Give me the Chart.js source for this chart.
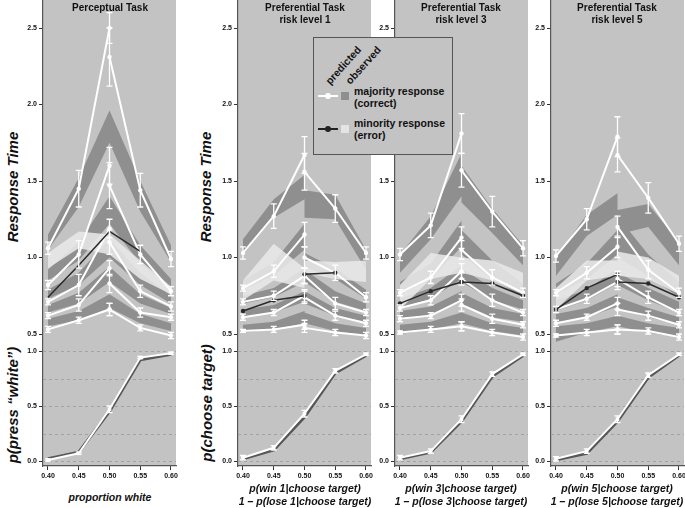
<!DOCTYPE html>
<html lang="en">
<head>
<meta charset="UTF-8">
<title>Response time and choice probability</title>
<script src="https://cdn.jsdelivr.net/npm/chart.js@4.4.0/dist/chart.umd.min.js"></script>
<style>
  body { margin: 0; width: 685px; height: 508px; overflow: hidden; position: relative; background: #fff;
         font-family: "Liberation Sans", Arial, Helvetica, sans-serif; color: #111; }
  canvas { position: absolute; z-index: 1; }
  .t { position: absolute; z-index: 4; font-weight: bold; white-space: nowrap; text-align: center; transform: translateX(-50%); }
  .ptitle { font-size: 10px; line-height: 12px; top: 2px; }
  .xtitle { font-size: 10.5px; line-height: 13px; font-style: italic; }
  .ytitle { position: absolute; z-index: 4; font-weight: bold; font-style: italic; font-size: 15px; white-space: nowrap;
            transform: translate(-50%, -50%) rotate(-90deg); }
  #legend { position: absolute; left: 313px; top: 37px; width: 138px; height: 116px; background: #c3c3c3;
            border: 1px solid #555; z-index: 5; font-size: 10.5px; font-weight: bold; }
  #legend .rot { position: absolute; white-space: nowrap; transform: translate(-50%, -50%) rotate(-48deg); }
  #legend .txt { position: absolute; left: 40px; line-height: 12px; white-space: nowrap; }
  #legend .ln { position: absolute; left: 4px; width: 20px; height: 2px; }
  #legend .dot { position: absolute; left: 11px; width: 6px; height: 6px; border-radius: 50%; }
  #legend .sq { position: absolute; left: 27px; width: 8px; height: 8px; }
</style>
</head>
<body>

<div class="t ptitle" style="left:110px">Perceptual Task</div>
<div class="t ptitle" style="left:305px">Preferential Task<br>risk level 1</div>
<div class="t ptitle" style="left:461px">Preferential Task<br>risk level 3</div>
<div class="t ptitle" style="left:617px">Preferential Task<br>risk level 5</div>

<div class="ytitle" style="left:12px; top:187px">Response Time</div>
<div class="ytitle" style="left:205px; top:187px">Response Time</div>
<div class="ytitle" style="left:12px; top:405px">p(press “white”)</div>
<div class="ytitle" style="left:206px; top:403px">p(choose target)</div>

<div class="t xtitle" style="left:110px; top:491px">proportion white</div>
<div class="t xtitle" style="left:305px; top:482px">p(win 1|choose target)<br>1 – p(lose 1|choose target)</div>
<div class="t xtitle" style="left:461px; top:482px">p(win 3|choose target)<br>1 – p(lose 3|choose target)</div>
<div class="t xtitle" style="left:617px; top:482px">p(win 5|choose target)<br>1 – p(lose 5|choose target)</div>

<div id="legend">
  <div class="rot" style="left:29px; top:27px">predicted</div>
  <div class="rot" style="left:49px; top:27px">observed</div>
  <div class="ln" style="top:57px; background:#fff"></div>
  <div class="dot" style="top:55px; background:#fff"></div>
  <div class="sq" style="top:54px; background:#8f8f8f"></div>
  <div class="txt" style="top:47px">majority response<br>(correct)</div>
  <div class="ln" style="top:90px; background:#222"></div>
  <div class="dot" style="top:88px; background:#222"></div>
  <div class="sq" style="top:87px; background:#e4e4e4"></div>
  <div class="txt" style="top:79px">minority response<br>(error)</div>
</div>

<script>
// x positions of the RT panels: 0.50 appears twice (left branch / right branch)
const xRT = [0.40, 0.45, 0.50, 0.50, 0.55, 0.60];
const xProb = [0.40, 0.45, 0.50, 0.55, 0.60];
const xTicks = [0.40, 0.45, 0.50, 0.55, 0.60];
const rtTicks = [0.5, 1.0, 1.5, 2.0, 2.5];
const pTicks = [0.0, 0.5, 1.0];
const pGrid = [0.0, 0.25, 0.5, 0.75, 1.0];

// ---- Perceptual task ----
const perceptualRT = [
  [1.06, 1.45, 2.50, 2.31, 1.44, 0.99],
  [0.82, 1.02, 1.60, 1.47, 1.02, 0.78],
  [0.71, 0.82, 1.19, 1.10, 0.78, 0.68],
  [0.62, 0.69, 0.93, 0.83, 0.64, 0.61],
  [0.53, 0.59, 0.66, 0.66, 0.54, 0.49]
];
const perceptualRTErr = [
  [0.04, 0.12, 0.10, 0.19, 0.11, 0.05],
  [0.03, 0.09, 0.12, 0.15, 0.06, 0.03],
  [0.02, 0.07, 0.06, 0.08, 0.04, 0.03],
  [0.02, 0.04, 0.05, 0.06, 0.03, 0.02],
  [0.02, 0.02, 0.04, 0.04, 0.02, 0.02]
];
const perceptualErrorRT = [0.74, 0.95, 1.17, 1.17, 1.04, null];
const perceptualBandLo = [
  [1.05, 1.33, 1.75, 1.75, 1.30, 0.97],
  [0.85, 0.98, 1.22, 1.22, 0.96, 0.80],
  [0.73, 0.82, 1.00, 1.00, 0.82, 0.70],
  [0.64, 0.70, 0.84, 0.84, 0.70, 0.63],
  [0.55, 0.59, 0.67, 0.67, 0.57, 0.52]
];
const perceptualBandHi = [
  [1.15, 1.52, 1.96, 1.96, 1.50, 1.08],
  [0.92, 1.10, 1.40, 1.40, 1.08, 0.86],
  [0.79, 0.90, 1.12, 1.12, 0.90, 0.75],
  [0.69, 0.77, 0.94, 0.94, 0.76, 0.67],
  [0.60, 0.65, 0.76, 0.76, 0.63, 0.57]
];
const perceptualLightLo = [0.93, 1.06, 1.02, 1.02, 0.86, 0.76];
const perceptualLightHi = [1.03, 1.17, 1.15, 1.15, 0.98, 0.81];
const perceptualChoice = [0.01, 0.07, 0.47, 0.94, 0.98];
const perceptualChoiceErr = [0.01, 0.01, 0.03, 0.01, 0.01];
const perceptualChoicePred = [0.02, 0.08, 0.45, 0.92, 0.97];

// ---- Preferential task, risk level 1 ----
const risk1RT = [
  [1.03, 1.27, 1.67, 1.56, 1.32, 1.03],
  [0.80, 0.91, 1.15, 1.00, 0.90, 0.74],
  [0.71, 0.75, 0.88, 0.88, 0.70, 0.64],
  [0.61, 0.64, 0.75, 0.74, 0.62, 0.57],
  [0.52, 0.53, 0.56, 0.54, 0.51, 0.49]
];
const risk1RTErr = [
  [0.04, 0.08, 0.12, 0.12, 0.09, 0.04],
  [0.02, 0.04, 0.08, 0.07, 0.05, 0.03],
  [0.02, 0.03, 0.05, 0.05, 0.04, 0.02],
  [0.02, 0.02, 0.04, 0.04, 0.03, 0.02],
  [0.01, 0.02, 0.03, 0.03, 0.02, 0.02]
];
const risk1ErrorRT = [0.65, 0.72, 0.75, 0.89, 0.90, null];
const risk1BandLo = [
  [1.02, 1.26, 1.38, 1.26, 1.25, 0.92],
  [0.79, 0.88, 1.05, 0.94, 0.86, 0.73],
  [0.70, 0.74, 0.84, 0.84, 0.71, 0.65],
  [0.61, 0.64, 0.71, 0.70, 0.62, 0.58],
  [0.51, 0.53, 0.57, 0.57, 0.52, 0.49]
];
const risk1BandHi = [
  [1.12, 1.38, 1.54, 1.44, 1.41, 1.05],
  [0.85, 0.97, 1.22, 1.03, 0.93, 0.79],
  [0.75, 0.80, 0.93, 0.92, 0.78, 0.70],
  [0.66, 0.69, 0.78, 0.78, 0.67, 0.62],
  [0.56, 0.58, 0.65, 0.64, 0.57, 0.54]
];
const risk1LightLo = [0.72, 0.85, 0.80, 0.90, 0.86, 0.84];
const risk1LightHi = [0.85, 1.09, 0.93, 0.98, 0.97, 0.98];
const risk1Choice = [0.03, 0.12, 0.43, 0.82, 0.97];
const risk1ChoiceErr = [0.02, 0.02, 0.03, 0.02, 0.01];
const risk1ChoicePred = [0.02, 0.10, 0.40, 0.80, 0.96];

// ---- Preferential task, risk level 3 ----
const risk3RT = [
  [1.02, 1.21, 1.81, 1.57, 1.30, 1.06],
  [0.77, 0.87, 1.13, 1.05, 0.87, 0.77],
  [0.67, 0.72, 0.91, 0.86, 0.72, 0.64],
  [0.60, 0.62, 0.72, 0.69, 0.60, 0.56],
  [0.51, 0.53, 0.55, 0.55, 0.51, 0.48]
];
const risk3RTErr = [
  [0.04, 0.08, 0.13, 0.11, 0.10, 0.05],
  [0.02, 0.04, 0.07, 0.06, 0.05, 0.03],
  [0.02, 0.03, 0.05, 0.04, 0.04, 0.02],
  [0.02, 0.02, 0.04, 0.04, 0.03, 0.02],
  [0.01, 0.02, 0.03, 0.03, 0.02, 0.02]
];
const risk3ErrorRT = [0.70, 0.78, 0.84, 0.84, 0.83, 0.75];
const risk3BandLo = [
  [0.90, 1.12, 1.40, 1.36, 1.16, 0.95],
  [0.76, 0.86, 1.07, 1.02, 0.86, 0.74],
  [0.67, 0.73, 0.86, 0.84, 0.72, 0.66],
  [0.59, 0.63, 0.71, 0.70, 0.61, 0.58],
  [0.50, 0.53, 0.57, 0.57, 0.52, 0.49]
];
const risk3BandHi = [
  [1.02, 1.27, 1.68, 1.60, 1.32, 1.08],
  [0.84, 0.96, 1.24, 1.18, 0.98, 0.83],
  [0.73, 0.80, 0.95, 0.93, 0.80, 0.72],
  [0.65, 0.68, 0.78, 0.77, 0.67, 0.63],
  [0.56, 0.58, 0.64, 0.64, 0.57, 0.54]
];
const risk3LightLo = [0.66, 0.86, 0.90, 0.90, 0.85, 0.76];
const risk3LightHi = [0.82, 1.03, 1.00, 1.00, 0.98, 0.90];
const risk3Choice = [0.03, 0.09, 0.38, 0.79, 0.97];
const risk3ChoiceErr = [0.02, 0.02, 0.03, 0.02, 0.01];
const risk3ChoicePred = [0.02, 0.08, 0.36, 0.77, 0.96];

// ---- Preferential task, risk level 5 ----
const risk5RT = [
  [1.01, 1.25, 1.79, 1.67, 1.39, 1.09],
  [0.77, 0.90, 1.07, 1.20, 0.92, 0.77],
  [0.66, 0.73, 0.84, 0.86, 0.74, 0.64],
  [0.57, 0.61, 0.70, 0.66, 0.62, 0.56],
  [0.49, 0.51, 0.53, 0.53, 0.52, 0.48]
];
const risk5RTErr = [
  [0.04, 0.07, 0.13, 0.11, 0.10, 0.05],
  [0.02, 0.04, 0.07, 0.07, 0.06, 0.03],
  [0.02, 0.03, 0.05, 0.05, 0.04, 0.02],
  [0.02, 0.02, 0.04, 0.04, 0.03, 0.02],
  [0.01, 0.02, 0.03, 0.03, 0.02, 0.02]
];
const risk5ErrorRT = [0.66, 0.80, 0.89, 0.84, 0.83, 0.74];
const risk5BandLo = [
  [0.88, 1.14, 1.28, 1.15, 1.20, 0.95],
  [0.76, 0.86, 1.02, 1.00, 0.88, 0.74],
  [0.65, 0.72, 0.83, 0.82, 0.72, 0.64],
  [0.57, 0.61, 0.68, 0.67, 0.61, 0.56],
  [0.45, 0.51, 0.55, 0.55, 0.51, 0.48]
];
const risk5BandHi = [
  [1.00, 1.28, 1.42, 1.31, 1.35, 1.10],
  [0.83, 0.96, 1.18, 1.27, 1.02, 0.84],
  [0.72, 0.79, 0.93, 0.90, 0.80, 0.71],
  [0.63, 0.67, 0.76, 0.74, 0.67, 0.61],
  [0.55, 0.57, 0.62, 0.62, 0.57, 0.54]
];
const risk5LightLo = [0.66, 0.85, 0.88, 0.88, 0.86, 0.76];
const risk5LightHi = [0.80, 0.98, 0.98, 1.04, 1.00, 0.88];
const risk5Choice = [0.02, 0.09, 0.38, 0.78, 0.97];
const risk5ChoiceErr = [0.02, 0.02, 0.03, 0.02, 0.01];
const risk5ChoicePred = [0.01, 0.07, 0.36, 0.76, 0.96];

// ---- look ----
const BG = '#c3c3c3', DARK = '#8f8f8f', LIGHT = 'rgba(232,232,232,0.88)';
const AXIS_W = 18, PLOT_W = 133, PAD_R = 12;
const X_MIN = 0.40 - 5 / 615, X_MAX = 0.60 + 5 / 615;

Chart.defaults.font.family = '"Liberation Sans", Arial, Helvetica, sans-serif';
Chart.defaults.animation = false;

const panelBg = {
  id: 'panelBg',
  beforeDraw(chart) {
    const { ctx, chartArea: a } = chart;
    ctx.save();
    ctx.fillStyle = BG;
    ctx.fillRect(a.left, a.top, a.right - a.left, a.bottom - a.top);
    ctx.restore();
  }
};

// dashed horizontal guides in the choice panels
const dashGrid = {
  id: 'dashGrid',
  beforeDatasetsDraw(chart) {
    if (!chart.options.dashed) return;
    const { ctx, chartArea: a, scales: { y } } = chart;
    ctx.save();
    ctx.strokeStyle = '#a2a2a2';
    ctx.lineWidth = 1;
    ctx.setLineDash([3, 3]);
    pGrid.forEach(v => {
      const py = Math.round(y.getPixelForValue(v)) + 0.5;
      ctx.beginPath(); ctx.moveTo(a.left, py); ctx.lineTo(a.right, py); ctx.stroke();
    });
    ctx.restore();
  }
};

const errorBars = {
  id: 'errorBars',
  afterDatasetsDraw(chart) {
    const { ctx, scales: { x, y } } = chart;
    ctx.save();
    ctx.strokeStyle = '#fff';
    ctx.lineWidth = 1.3;
    chart.data.datasets.forEach(ds => {
      if (!ds.errors) return;
      ds.data.forEach((p, i) => {
        const e = ds.errors[i];
        if (!e || p.y == null) return;
        const px = x.getPixelForValue(p.x);
        const top = y.getPixelForValue(p.y + e), bot = y.getPixelForValue(p.y - e);
        ctx.beginPath();
        ctx.moveTo(px, top); ctx.lineTo(px, bot);
        ctx.moveTo(px - 3, top); ctx.lineTo(px + 3, top);
        ctx.moveTo(px - 3, bot); ctx.lineTo(px + 3, bot);
        ctx.stroke();
      });
    });
    ctx.restore();
  }
};

function xScale(show) {
  return {
    type: 'linear', min: X_MIN, max: X_MAX, display: show,
    afterBuildTicks: s => { s.ticks = xTicks.map(v => ({ value: v })); },
    afterFit: s => { s.height = show ? 20 : 0; s.paddingLeft = 0; s.paddingRight = 0; },
    grid: { drawOnChartArea: false, tickLength: 4, tickColor: '#333' },
    border: { color: '#555', width: 1.2 },
    ticks: { padding: 2, color: '#111', autoSkip: false, maxRotation: 0,
             font: { size: 7, weight: 'bold' }, callback: v => v.toFixed(2) }
  };
}

function yScale(min, max, ticks) {
  return {
    type: 'linear', min, max,
    afterBuildTicks: s => { s.ticks = ticks.map(v => ({ value: v })); },
    afterFit: s => { s.width = AXIS_W; s.paddingTop = 0; s.paddingBottom = 0; },
    grid: { drawOnChartArea: false, tickLength: 4, tickColor: '#333' },
    border: { color: '#555', width: 1.2 },
    ticks: { padding: 2, color: '#111', autoSkip: false,
             font: { size: 7, weight: 'bold' }, callback: v => v.toFixed(1) }
  };
}

function addCanvas(left, top, h) {
  const c = document.createElement('canvas');
  c.width = AXIS_W + PLOT_W + PAD_R;
  c.height = h;
  c.style.left = left + 'px';
  c.style.top = top + 'px';
  document.body.appendChild(c);
  return c;
}

const rtPts = ys => ys.map((y, i) => ({ x: xRT[i], y }));
const pPts = ys => ys.map((y, i) => ({ x: xProb[i], y }));
// no segment between the left and right branch at 0.50
const branchGap = { borderColor: c => (c.p0DataIndex === 2 ? 'rgba(0,0,0,0)' : undefined) };
const NONE = 'rgba(0,0,0,0)';

function baseOptions(dashed) {
  return {
    responsive: false, events: [], dashed,
    layout: { autoPadding: false, padding: { left: 0, right: PAD_R, top: 0, bottom: 0 } },
    plugins: { legend: { display: false }, tooltip: { enabled: false } }
  };
}

function drawPanel(p) {
  const datasets = [];
  p.bandLo.forEach((lo, k) => {
    datasets.push({ data: rtPts(lo), borderColor: NONE, borderWidth: 0, pointRadius: 0, fill: false, order: 6 });
    datasets.push({ data: rtPts(p.bandHi[k]), borderColor: NONE, borderWidth: 0, pointRadius: 0,
                    fill: '-1', backgroundColor: DARK, order: 6 });
  });
  datasets.push({ data: rtPts(p.lightLo), borderColor: NONE, borderWidth: 0, pointRadius: 0, fill: false, order: 5 });
  datasets.push({ data: rtPts(p.lightHi), borderColor: NONE, borderWidth: 0, pointRadius: 0,
                  fill: '-1', backgroundColor: LIGHT, order: 5 });
  p.rt.forEach((ys, k) => {
    datasets.push({ data: rtPts(ys), errors: p.rtErr[k], borderColor: '#fff', borderWidth: 2,
                    pointRadius: 2.2, pointBackgroundColor: '#fff', pointBorderColor: '#fff',
                    pointBorderWidth: 0, segment: branchGap, fill: false, order: 2 });
  });
  datasets.push({ data: rtPts(p.minority), borderColor: '#2a2a2a', borderWidth: 1.5,
                  pointRadius: p.dots ? 2.2 : 0, pointBackgroundColor: '#2a2a2a', pointBorderWidth: 0,
                  segment: branchGap, fill: false, order: 1 });

  new Chart(addCanvas(p.left - AXIS_W, 0, 343), {
    type: 'line',
    data: { datasets },
    options: Object.assign(baseOptions(false), {
      scales: { x: xScale(false), y: yScale(0.5 - 9 / 153, 2.5 + 28 / 153, rtTicks) }
    }),
    plugins: [panelBg, errorBars]
  });

  new Chart(addCanvas(p.left - AXIS_W, 343, 143), {
    type: 'line',
    data: {
      datasets: [
        { data: pPts(p.choicePred), borderColor: 'rgba(60,60,60,0.8)', borderWidth: 3,
          pointRadius: 0, fill: false, order: 3 },
        { data: pPts(p.choice), errors: p.choiceErr, borderColor: '#fff', borderWidth: 2,
          pointStyle: 'rect', pointRadius: 2.6, pointBackgroundColor: '#fff', pointBorderColor: '#fff',
          pointBorderWidth: 0, fill: false, order: 1 }
      ]
    },
    options: Object.assign(baseOptions(true), {
      scales: { x: xScale(true), y: yScale(-5 / 110, 1 + 8 / 110, pTicks) }
    }),
    plugins: [panelBg, dashGrid, errorBars]
  });
}

const panels = [
  { left: 43, rt: perceptualRT, rtErr: perceptualRTErr, minority: perceptualErrorRT, dots: false,
    bandLo: perceptualBandLo, bandHi: perceptualBandHi, lightLo: perceptualLightLo, lightHi: perceptualLightHi,
    choice: perceptualChoice, choiceErr: perceptualChoiceErr, choicePred: perceptualChoicePred },
  { left: 238, rt: risk1RT, rtErr: risk1RTErr, minority: risk1ErrorRT, dots: true,
    bandLo: risk1BandLo, bandHi: risk1BandHi, lightLo: risk1LightLo, lightHi: risk1LightHi,
    choice: risk1Choice, choiceErr: risk1ChoiceErr, choicePred: risk1ChoicePred },
  { left: 395, rt: risk3RT, rtErr: risk3RTErr, minority: risk3ErrorRT, dots: true,
    bandLo: risk3BandLo, bandHi: risk3BandHi, lightLo: risk3LightLo, lightHi: risk3LightHi,
    choice: risk3Choice, choiceErr: risk3ChoiceErr, choicePred: risk3ChoicePred },
  { left: 551, rt: risk5RT, rtErr: risk5RTErr, minority: risk5ErrorRT, dots: true,
    bandLo: risk5BandLo, bandHi: risk5BandHi, lightLo: risk5LightLo, lightHi: risk5LightHi,
    choice: risk5Choice, choiceErr: risk5ChoiceErr, choicePred: risk5ChoicePred }
];

panels.forEach(drawPanel);
</script>
</body>
</html>
